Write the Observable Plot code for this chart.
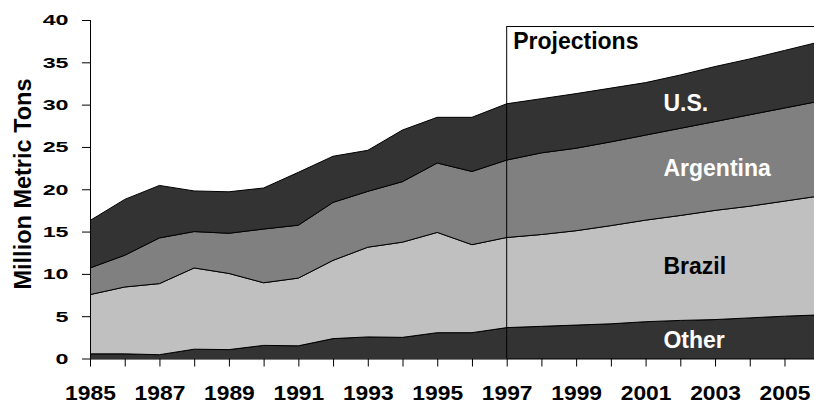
<!DOCTYPE html>
<html>
<head>
<meta charset="utf-8">
<script src="https://cdn.jsdelivr.net/npm/d3@7"></script>
<script src="https://cdn.jsdelivr.net/npm/@observablehq/plot@0.6"></script>
<style>
  html, body { margin: 0; padding: 0; background: #fff; overflow: hidden; }
</style>
</head>
<body>
<div id="chart"></div>
<script>
// ---- Data (million metric tons) ----
const years     = [1985, 1986, 1987, 1988, 1989, 1990, 1991, 1992, 1993, 1994, 1995, 1996, 1997, 1998, 1999, 2000, 2001, 2002, 2003, 2004, 2005, 2006];
const other     = [0.55, 0.55, 0.45, 1.10, 1.05, 1.55, 1.50, 2.35, 2.55, 2.50, 3.05, 3.05, 3.65, 3.80, 3.95, 4.10, 4.35, 4.50, 4.60, 4.80, 5.00, 5.15];
const brazil    = [7.00, 7.90, 8.40, 9.60, 9.00, 7.40, 8.00, 9.25, 10.60, 11.25, 11.85, 10.40, 10.65, 10.85, 11.15, 11.60, 12.00, 12.40, 12.90, 13.20, 13.60, 14.05];
const argentina = [3.15, 3.75, 5.40, 4.30, 4.75, 6.35, 6.25, 6.85, 6.60, 7.15, 8.20, 8.65, 9.15, 9.65, 9.75, 9.90, 10.05, 10.30, 10.50, 10.80, 11.00, 11.20];
const us        = [5.60, 6.60, 6.20, 4.80, 4.90, 4.85, 6.25, 5.45, 4.85, 6.10, 5.40, 6.40, 6.65, 6.40, 6.45, 6.35, 6.20, 6.30, 6.50, 6.60, 6.80, 7.00];

const seriesNames  = ["Other", "Brazil", "Argentina", "U.S."];
const seriesColors = ["#333333", "#c0c0c0", "#808080", "#333333"];

const yTicks = [0, 5, 10, 15, 20, 25, 30, 35, 40];
const xTicks = years.filter(y => y <= 2005);

const projectionStart = 1997;
const projectionEnd = 2006;
const projectionTop = 39.23;
const projectionText = "Projections";

const labelTexts  = ["U.S.", "Argentina", "Brazil", "Other"];
const labelYears  = [2001.5, 2001.5, 2001.5, 2001.5];
const labelValues = [30.2, 22.5, 10.95, 2.2];
const labelColors = ["white", "white", "black", "white"];

const yTitle = "Million Metric Tons";

// ---- Build tables ----
const seriesValues = [other, brazil, argentina, us];
const table = years.flatMap((year, i) =>
  seriesNames.map((s, k) => ({year, series: s, value: seriesValues[k][i]}))
);
const labelData = labelTexts.map((t, i) => ({text: t, year: labelYears[i], value: labelValues[i], color: labelColors[i]}));
const boxData = [{x1: projectionStart, x2: projectionEnd, y1: 0, y2: projectionTop}];

const FONT = "'Liberation Sans', Arial, Helvetica, sans-serif";

const chart = Plot.plot({
  width: 814,
  height: 404,
  marginLeft: 90,
  marginRight: 0,
  marginTop: 20,
  marginBottom: 45.5,
  style: {fontFamily: FONT, fontWeight: "bold", color: "black", background: "white"},
  x: {domain: [1985, 2005.85], label: null},
  y: {domain: [0, 40], label: null},
  color: {type: "ordinal", domain: seriesNames, range: seriesColors},
  marks: [
    Plot.areaY(table, {x: "year", y: "value", z: "series", fill: "series", stroke: "black", strokeWidth: 1, clip: true}),
    Plot.rect(boxData, {x1: "x1", x2: "x2", y1: "y1", y2: "y2", fill: "none", stroke: "black", strokeWidth: 1, clip: true}),
    Plot.ruleX([1985], {y1: 0, y2: 40, stroke: "black"}),
    Plot.ruleY([0], {stroke: "black"}),
    Plot.axisY({ticks: yTicks, tickSize: 8, tickPadding: 14, label: null, fontSize: 15.5, tickFormat: d => String(d)}),
    Plot.axisX({ticks: xTicks, tickSize: 8, tickPadding: 19.5, label: null, fontSize: 19.5,
                tickFormat: d => (d % 2 === 1 ? String(d) : "")}),
    Plot.text(labelData, {x: "year", y: "value", text: "text", fill: "color", textAnchor: "start", fontSize: 23, fontWeight: "bold"}),
    Plot.text([projectionText], {x: [projectionStart], y: [37.55], text: d => d, textAnchor: "start", dx: 6, fontSize: 23, fontWeight: "bold", fill: "black"}),
    Plot.text([yTitle], {frameAnchor: "left", textAnchor: "middle", lineAnchor: "middle", rotate: -90, dx: -67, dy: -5.75, text: d => d, fontSize: 23.5, fontWeight: "bold", fill: "black"})
  ]
});

document.getElementById("chart").appendChild(chart);

// Widen the tick-label glyphs, as in the reference image
function stretch(sel, sx) {
  d3.select(chart).selectAll(sel).each(function () {
    const t = this.getAttribute("transform");
    if (t && t.includes("translate")) this.setAttribute("transform", t + ` scale(${sx},1)`);
  });
}
stretch('[aria-label="y-axis tick label"] text', 1.5);
stretch('[aria-label="x-axis tick label"] text', 1.17);
d3.select(chart).selectAll('[aria-label="y-axis tick"], [aria-label="x-axis tick"]').attr("stroke", "black");
</script>
</body>
</html>
